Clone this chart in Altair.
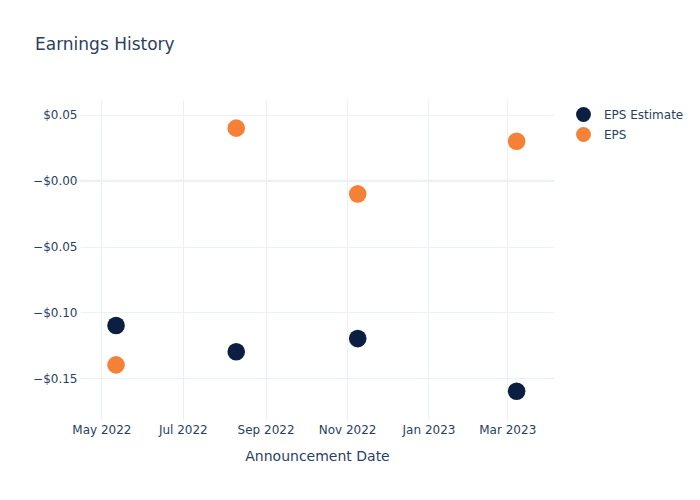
import altair as alt
import pandas as pd

dates = ["2022-05-12", "2022-08-10", "2022-11-09", "2023-03-08"]
eps_estimate = [-0.11, -0.13, -0.12, -0.16]
eps_actual = [-0.14, 0.04, -0.01, 0.03]
series_names = ["EPS Estimate", "EPS"]
series_colors = ["#0b1f40", "#f58037"]

rows = []
for d, e, a in zip(dates, eps_estimate, eps_actual):
    rows.append({"date": d, "value": e, "series": series_names[0]})
    rows.append({"date": d, "value": a, "series": series_names[1]})
df = pd.DataFrame(rows)

text_color = "#2a3f5f"
grid_color = "#ebf0f8"
font = "DejaVu Sans"

x_enc = alt.X(
    "date:T",
    title="Announcement Date",
    scale=alt.Scale(domain=["2022-04-15", "2023-04-05"], nice=False),
    axis=alt.Axis(
        values=["2022-05-01", "2022-07-01", "2022-09-01", "2022-11-01", "2023-01-01", "2023-03-01"],
        format="%b %Y",
        labelFontSize=12,
        labelColor=text_color,
        titleFontSize=14,
        titleColor=text_color,
        titleFontWeight="normal",
        titlePadding=14,
        domain=False,
        ticks=False,
        labelPadding=4,
        gridColor=grid_color,
        labelFont=font,
        titleFont=font,
    ),
)
y_scale = alt.Scale(domain=[-0.1819, 0.0614], nice=False, zero=False)

points = alt.Chart(df).mark_circle(size=310, opacity=1).encode(
    x=x_enc,
    y=alt.Y(
        "value:Q",
        title=None,
        scale=y_scale,
        axis=alt.Axis(
            values=[0.05, 0.0, -0.05, -0.10, -0.15],
            labelExpr="datum.value == 0 ? '\u2212$0.00' : format(datum.value, '$.2f')",
            labelFontSize=12,
            labelColor=text_color,
            domain=False,
            ticks=False,
            labelPadding=3,
            gridColor=grid_color,
            labelFont=font,
        ),
    ),
    color=alt.Color(
        "series:N",
        scale=alt.Scale(domain=series_names, range=series_colors),
        legend=alt.Legend(
            title=None,
            orient="none",
            legendX=495,
            legendY=6,
            symbolType="circle",
            symbolSize=220,
            symbolOpacity=1,
            labelFontSize=12,
            labelColor=text_color,
            labelFont=font,
            labelOffset=12,
            rowPadding=4,
        ),
    ),
)

zero_line = alt.Chart(pd.DataFrame({"y": [0.0]})).mark_rule(
    color=grid_color, strokeWidth=2
).encode(y=alt.Y("y:Q", scale=y_scale))

chart = alt.layer(zero_line, points).properties(
    width=474,
    height=320,
    title=alt.TitleParams(
        "Earnings History",
        anchor="start",
        frame="group",
        dx=-45,
        offset=46,
        fontSize=17,
        fontWeight="normal",
        color=text_color,
        font=font,
    ),
    autosize=alt.AutoSizeParams(type="none"),
    padding={"left": 80, "top": 100, "right": 146, "bottom": 80},
).configure(background="white").configure_view(stroke=None)

chart.save("out.html", embed_options={"renderer": "svg", "actions": False})
